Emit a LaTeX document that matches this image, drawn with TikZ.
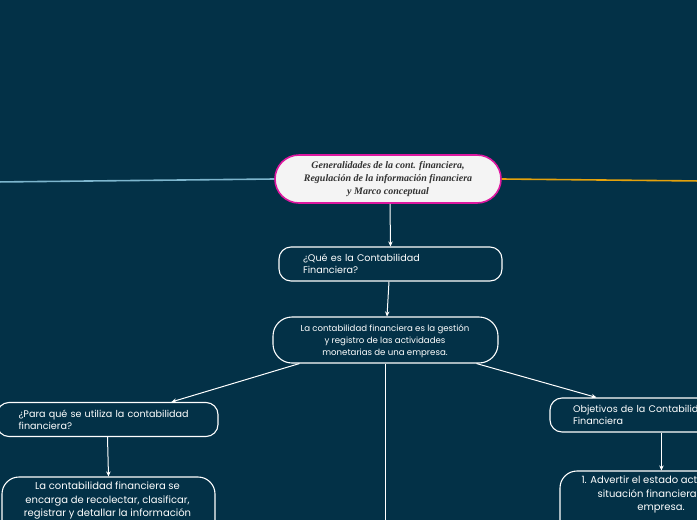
\documentclass[tikz,border=0pt]{standalone}
\usepackage{fontspec}
\setmainfont{Poppins}
\newfontfamily\centralfont{Liberation Serif}
\usetikzlibrary{arrows.meta}
\definecolor{bg}{RGB}{3,49,71}
\definecolor{mag}{RGB}{222,24,160}
\definecolor{lblue}{RGB}{125,182,206}
\definecolor{orng}{RGB}{228,162,12}
\definecolor{cfill}{RGB}{244,244,244}
\definecolor{ctext}{RGB}{50,50,50}
\tikzset{
  central/.style={draw=mag, line width=1.6pt, fill=cfill, rounded corners=24pt,
    minimum width=226pt, minimum height=48pt, inner sep=0pt, align=center, text=ctext,
    font=\centralfont\bfseries\itshape\fontsize{10}{13}\selectfont},
  topic/.style={draw=white, line width=1.1pt, rounded corners=12pt, minimum height=34pt,
    inner ysep=0pt, inner xsep=0pt, text=white, align=left,
    font=\fontsize{9.6}{12}\selectfont},
  bigbox/.style={draw=white, line width=1.1pt, rounded corners=17pt, inner sep=0pt},
  boxtext/.style={text=white, align=center, inner sep=0pt},
  arr/.style={draw=white, line width=1pt, -{Stealth[length=5pt,width=4.5pt]}},
  plain/.style={draw=white, line width=1pt},
}
\begin{document}
\begin{tikzpicture}[x=1pt,y=-1pt]
\fill[bg] (0,0) rectangle (697,520);
\useasboundingbox (0,0) rectangle (697,520);
\clip (0,0) rectangle (697,520);

% central
\node[central] (c) at (388,179) {Generalidades de la cont. financiera,\\Regulación de la información financiera\\y Marco conceptual};

\coordinate (lend) at (-5,182);
\coordinate (rend) at (702,181);
\draw[lblue, line width=1.6pt] (c.west) -- (lend);
\draw[orng, line width=1.6pt] (c.east) -- (rend);

% what is
\node[topic, minimum width=223pt, text width=175pt, inner xsep=24pt] (q1) at (390.5,264) {¿Qué es la Contabilidad\\Financiera?};

% definition
\node[bigbox, rounded corners=19pt, minimum width=225pt, minimum height=46pt] (d1) at (385.5,340) {};
\node[boxtext, font=\fontsize{8.6}{12}\selectfont] (d1t) at (385,341) {La contabilidad financiera es la gestión\\y registro de las actividades\\monetarias de una empresa.};

% left branch
\node[topic, minimum width=221pt, text width=178pt, inner xsep=21.5pt] (p1) at (107.5,419.5) {¿Para qué se utiliza la contabilidad\\financiera?};
\node[bigbox, minimum width=213pt, minimum height=100pt] (p2) at (108.5,527) {};
\node[boxtext, anchor=north, font=\fontsize{10}{13.5}\selectfont] (p2t) at (107.5,482) {La contabilidad financiera se\\encarga de recolectar, clasificar,\\registrar y detallar la información};

% right branch
\node[topic, minimum width=196pt, text width=150pt, inner xsep=23pt] (o1) at (648,415) {Objetivos de la Contabilidad\\Financiera};
\node[bigbox, minimum width=200pt, minimum height=100pt] (o2) at (660,521) {};
\node[boxtext, anchor=north, font=\fontsize{10}{13.5}\selectfont] (o2t) at (661,476) {1. Advertir el estado actual de la\\situación financiera de la\\empresa.};

% connectors
\draw[arr] ([xshift=2pt]c.south) -- (q1.north);
\draw[arr] ([xshift=-1.5pt]q1.south) -- ([xshift=1.5pt]d1.north);
\draw[arr] ([xshift=27pt]d1.south west) -- ([xshift=175pt]p1.north west);
\draw[arr] ([xshift=-22pt]d1.south east) -- ([xshift=47pt]o1.north west);
\coordinate (bot) at (385.5,525);
\draw[plain] (d1.south) -- (bot);
\draw[arr] (p1.south) -- (p2.north);
\draw[arr] ([xshift=112pt]o1.south west) -- ([xshift=102pt]o2.north west);
\end{tikzpicture}
\end{document}
